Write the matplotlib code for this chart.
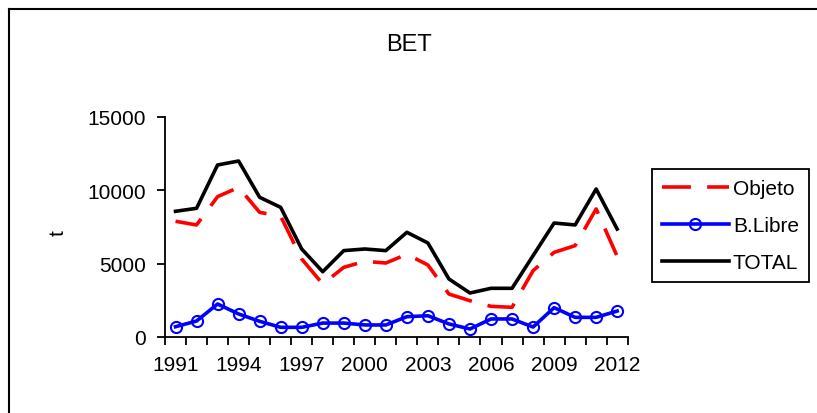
import matplotlib.pyplot as plt
import numpy as np

# Data
years = list(range(1991, 2013))
objeto = [7890, 7640, 9570, 10200, 8500, 8230, 5320, 3610, 4750, 5160, 5045,
          5640, 4910, 2930, 2475, 2090, 2025, 4520, 5770, 6230, 8730, 5500]
blibre = [700, 1090, 2250, 1570, 1070, 660, 660, 950, 950, 820, 820,
          1385, 1450, 890, 545, 1230, 1230, 680, 2000, 1340, 1340, 1770]
total = [8570, 8775, 11730, 12000, 9525, 8840, 6000, 4450, 5890, 6000, 5890,
         7140, 6410, 3955, 3000, 3320, 3320, 5545, 7770, 7640, 10090, 7360]
yticks = [0, 5000, 10000, 15000]

plt.rcParams['font.family'] = ['Liberation Sans', 'DejaVu Sans']

fig = plt.figure(figsize=(8.17, 4.14), dpi=100)
ax = fig.add_axes([165 / 817, 1 - 338 / 414, (627.7 - 165) / 817, (338 - 118) / 414])

x = np.arange(len(years))
ax.plot(x, objeto, color='red', lw=2.6, dashes=(8, 4.5), label='Objeto')
ax.plot(x, blibre, color='blue', lw=2.6, marker='o', markersize=8,
        markerfacecolor='none', markeredgewidth=1.5, label='B.Libre')
ax.plot(x, total, color='black', lw=2.6, label='TOTAL')

ax.set_xlim(-0.5, len(years) - 0.5)
ax.set_ylim(0, 15000)
ax.set_yticks(yticks)
ax.set_yticklabels([str(v) for v in yticks])

# category axis: ticks between categories, labels every third year
ax.set_xticks(x[::3])
ax.set_xticklabels([str(y) for y in years[::3]])
ax.set_xticks(np.arange(-0.5, len(years), 1), minor=True)
ax.tick_params(axis='x', which='major', length=0, pad=13, labelsize=15)
ax.tick_params(axis='x', which='minor', length=6, width=1.3, direction='out')
ax.tick_params(axis='y', length=6, width=1.3, pad=8, labelsize=15)

for s in ['top', 'right']:
    ax.spines[s].set_visible(False)
for s in ['left', 'bottom']:
    ax.spines[s].set_linewidth(1.3)

fig.text(409 / 817, 1 - 45 / 414, 'BET', ha='center', va='center', fontsize=17)
fig.text(58 / 817, 1 - 233 / 414, 't', ha='center', va='center', rotation=90, fontsize=15)

leg = fig.legend(loc='center left', bbox_to_anchor=(651.7 / 817, 1 - 226.7 / 414),
                 fontsize=15, handlelength=3.2, handletextpad=0.2,
                 labelspacing=0.85, borderpad=0.5, borderaxespad=0,
                 fancybox=False, framealpha=1)
leg.get_frame().set_edgecolor('black')
leg.get_frame().set_linewidth(1.3)

# outer chart border (left and top visible)
fig.add_artist(plt.Line2D([9 / 817, 9 / 817], [0, 1 - 10 / 414], color='black', lw=1.5,
                          transform=fig.transFigure))
fig.add_artist(plt.Line2D([9 / 817, 1], [1 - 10 / 414, 1 - 10 / 414], color='black', lw=1.5,
                          transform=fig.transFigure))

fig.savefig('out.png', dpi=100)
